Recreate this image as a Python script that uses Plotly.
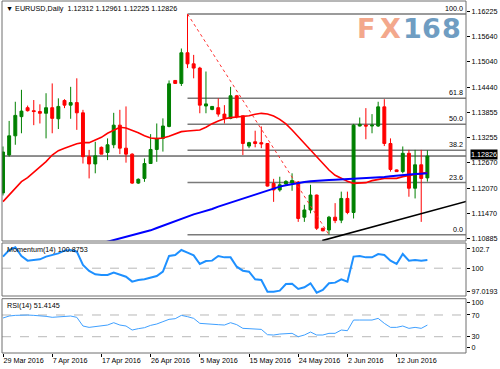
import plotly.graph_objects as go

# ---------------- data ----------------
symbol_title = "EURUSD,Daily"
last_ohlc = ["1.12312", "1.12961", "1.12225", "1.12826"]

bars = list(range(70))  # daily bars (broker with Sunday candles), 29 Mar 2016 .. 17 Jun 2016
tick_bars = [0, 8, 16, 24, 32, 40, 48, 56, 64]
tick_labels = ["29 Mar 2016", "7 Apr 2016", "17 Apr 2016", "26 Apr 2016", "5 May 2016",
               "15 May 2016", "24 May 2016", "2 Jun 2016", "12 Jun 2016"]

opens = [1.1196, 1.1285, 1.1330, 1.1375, 1.1396, 1.1389, 1.1387, 1.1383, 1.1396, 1.1370,
         1.1413, 1.1402, 1.1408, 1.1384, 1.1281, 1.1264, 1.1303, 1.1291, 1.1309, 1.1355,
         1.1301, 1.1287, 1.1219, 1.1230, 1.1265, 1.1298, 1.1324, 1.1352, 1.1460, 1.1453,
         1.1525, 1.1499, 1.1489, 1.1400, 1.1392, 1.1396, 1.1381, 1.1371, 1.1424, 1.1377,
         1.1306, 1.1316, 1.1314, 1.1312, 1.1218, 1.1203, 1.1217, 1.1219, 1.1221, 1.1139,
         1.1156, 1.1191, 1.1113, 1.1109, 1.1139, 1.1132, 1.1183, 1.1150, 1.1353, 1.1355,
         1.1353, 1.1353, 1.1398, 1.1312, 1.1250, 1.1246, 1.1289, 1.1207, 1.1262, 1.12312]
highs = [1.1305, 1.1365, 1.1410, 1.1438, 1.1401, 1.1414, 1.1404, 1.1430, 1.1453, 1.1418,
         1.1416, 1.1445, 1.1465, 1.1391, 1.1297, 1.1316, 1.1305, 1.1324, 1.1384, 1.1391,
         1.1399, 1.1289, 1.1230, 1.1277, 1.1334, 1.1359, 1.1371, 1.1460, 1.1461, 1.1535,
         1.1616, 1.1520, 1.1492, 1.1481, 1.1400, 1.1418, 1.1402, 1.1445, 1.1426, 1.1377,
         1.1316, 1.1342, 1.1352, 1.1313, 1.1229, 1.1234, 1.1226, 1.1242, 1.1224, 1.1168,
         1.1215, 1.1192, 1.1114, 1.1142, 1.1172, 1.1199, 1.1199, 1.1358, 1.1373, 1.1395,
         1.1381, 1.1410, 1.1416, 1.1324, 1.1251, 1.1305, 1.1297, 1.1297, 1.1297, 1.12961]
lows = [1.1190, 1.1281, 1.1309, 1.1336, 1.1387, 1.1355, 1.1359, 1.1324, 1.1336, 1.1346,
        1.1395, 1.1370, 1.1344, 1.1265, 1.1230, 1.1242, 1.1287, 1.1273, 1.1301, 1.1287,
        1.1267, 1.1217, 1.1217, 1.1222, 1.1264, 1.1269, 1.1293, 1.1350, 1.1452, 1.1447,
        1.1489, 1.1465, 1.1383, 1.1383, 1.1390, 1.1375, 1.1359, 1.1369, 1.1371, 1.1285,
        1.1301, 1.1303, 1.1301, 1.1211, 1.1175, 1.1199, 1.1214, 1.1201, 1.1128, 1.1128,
        1.1148, 1.1109, 1.1106, 1.1098, 1.1125, 1.1125, 1.1146, 1.1136, 1.1352, 1.1322,
        1.1336, 1.1351, 1.1306, 1.1246, 1.1246, 1.1242, 1.1187, 1.1183, 1.1128, 1.12225]
closes = [1.1292, 1.1330, 1.1378, 1.1388, 1.1389, 1.1387, 1.1383, 1.1396, 1.1371, 1.1399,
          1.1402, 1.1408, 1.1384, 1.1281, 1.1264, 1.1283, 1.1287, 1.1309, 1.1355, 1.1301,
          1.1287, 1.1219, 1.1228, 1.1265, 1.1298, 1.1324, 1.1353, 1.1452, 1.1453, 1.1525,
          1.1499, 1.1489, 1.1402, 1.1405, 1.1399, 1.1381, 1.1371, 1.1424, 1.1375, 1.1312,
          1.1314, 1.1312, 1.1311, 1.1212, 1.1203, 1.1215, 1.1223, 1.1225, 1.1136, 1.1156,
          1.1191, 1.1113, 1.1107, 1.1139, 1.1131, 1.1183, 1.1150, 1.1355, 1.1357, 1.1353,
          1.1355, 1.1398, 1.1312, 1.1251, 1.1246, 1.1289, 1.1207, 1.1262, 1.1230, 1.12826]

ma_red = [1.11755, 1.11911, 1.12068, 1.12224, 1.12318, 1.12443, 1.12553, 1.12694, 1.12850, 1.12952,
          1.13007, 1.13061, 1.13116, 1.13140, 1.13140, 1.13202, 1.13265, 1.13359, 1.13437, 1.13500,
          1.13484, 1.13437, 1.13374, 1.13304, 1.13249, 1.13234, 1.13249, 1.13288, 1.13343, 1.13398,
          1.13414, 1.13429, 1.13437, 1.13500, 1.13586, 1.13648, 1.13703, 1.13727, 1.13742, 1.13758,
          1.13773, 1.13805, 1.13828, 1.13813, 1.13766, 1.13687, 1.13578, 1.13437, 1.13281, 1.13124,
          1.12952, 1.12795, 1.12639, 1.12498, 1.12373, 1.12295, 1.12232, 1.12185, 1.12193, 1.12201,
          1.12248, 1.12279, 1.12302, 1.12302, 1.12302, 1.12342, 1.12373, 1.12404, 1.12420, 1.12435]
ma_blue = [None] * 16 + [
    1.10777, 1.10816, 1.10855, 1.10886, 1.10917, 1.10956, 1.10996, 1.11035, 1.11082, 1.11137,
    1.11191, 1.11246, 1.11301, 1.11356, 1.11403, 1.11457, 1.11497, 1.11536, 1.11583, 1.11637,
    1.11684, 1.11731, 1.11778, 1.11825, 1.11872, 1.11927, 1.11966, 1.12005, 1.12060, 1.12107,
    1.12138, 1.12169, 1.12201, 1.12216, 1.12232, 1.12248, 1.12256, 1.12263, 1.12271, 1.12279,
    1.12279, 1.12279, 1.12287, 1.12295, 1.12302, 1.12318, 1.12334, 1.12349, 1.12365, 1.12381,
    1.12396, 1.12404, 1.12412, 1.12420]

momentum = [101.24, 101.95, 102.24, 101.31, 100.81, 100.88, 100.95, 101.24, 101.38, 101.59,
            101.88, 101.95, 101.77, 100.34, 99.70, 99.34, 99.27, 99.27, 99.52, 99.27,
            99.09, 98.56, 98.73, 98.81, 98.98, 99.16, 99.63, 101.31, 101.41, 101.95,
            101.66, 101.38, 100.45, 100.77, 100.81, 101.31, 101.16, 101.16, 100.16, 99.73,
            99.63, 98.81, 98.73, 97.48, 97.48, 97.59, 98.31, 98.34, 97.77, 97.95,
            98.38, 97.38, 97.66, 98.38, 98.45, 98.81, 98.56, 101.24, 101.31, 101.16,
            101.16, 101.52, 101.41, 100.81, 100.45, 101.52, 100.81, 100.88, 100.81, 100.8753]
rsi = [64.4, 68.1, 69.3, 69.9, 69.9, 69.3, 68.7, 67.5, 65.7, 66.9,
       67.5, 68.1, 65.7, 49.7, 47.2, 48.5, 49.7, 51.5, 55.8, 51.5,
       49.7, 42.3, 44.8, 46.6, 50.9, 53.4, 57.7, 62.0, 63.2, 69.3,
       66.9, 63.8, 54.6, 53.4, 53.4, 52.2, 51.5, 55.8, 52.2, 45.4,
       44.8, 44.8, 43.5, 33.7, 33.1, 34.9, 35.6, 36.2, 30.0, 33.1,
       38.6, 33.1, 33.1, 36.2, 36.2, 42.3, 41.1, 60.7, 60.7, 60.7,
       60.7, 63.8, 54.6, 47.2, 47.2, 49.7, 45.4, 47.2, 45.4, 51.4145]

price_ticks = [1.16225, 1.15640, 1.15040, 1.14440, 1.13855, 1.13255, 1.12670, 1.12070, 1.11470, 1.10885]
price_tick_text = ["1.16225", "1.15640", "1.15040", "1.14440", "1.13855", "1.13255", "1.12670",
                   "1.12070", "1.11470", "1.10885"]
mom_ticks = [102.06, 100.0, 97.55]
mom_tick_text = ["102.7", "100", "97.0193"]
mom_range = [97.0193, 102.7]
rsi_ticks = [92.5, 70, 30, 10.5]
rsi_tick_text = ["100", "70", "30", "0"]

current_price = 1.12826
fib_high, fib_low = 1.1616, 1.1098
fib_high_bar, fib_low_bar = 30, 53
fib_levels = [100.0, 61.8, 50.0, 38.2, 23.6, 0.0]
trend_x = [51.9, 75.3]
trend_y = [1.1084, 1.1176]

# ---------------- geometry ----------------
W, H = 500, 369
L, R, T, B = 2, 34, 1, 16
ph = H - T - B


def py(y):  # pixel y -> paper y
    return (H - B - y) / ph


def px(x):  # pixel x -> paper x
    return (x - L) / (W - L - R)


x_range = [-0.163, 75.28]
main_dom = [py(241), 1.0]
mom_dom = [py(296), py(243)]
rsi_dom = [0.0, py(298.7)]
main_range = [1.10831, 1.16465]

FONT = "Liberation Sans, Arial, sans-serif"
FS = 7.2

fig = go.Figure()

fig.add_trace(go.Candlestick(
    x=bars, open=opens, high=highs, low=lows, close=closes,
    increasing=dict(line=dict(color="#008000", width=1), fillcolor="#008000"),
    decreasing=dict(line=dict(color="#FF0000", width=1), fillcolor="#FF0000"),
    whiskerwidth=0, hoverinfo="skip", showlegend=False, xaxis="x", yaxis="y"))

fig.add_trace(go.Scatter(x=bars, y=ma_red, mode="lines", line=dict(color="#FF0000", width=1.6),
                         hoverinfo="skip", showlegend=False, yaxis="y"))
fig.add_trace(go.Scatter(x=bars, y=ma_blue, mode="lines", line=dict(color="#0000FF", width=2),
                         hoverinfo="skip", showlegend=False, yaxis="y"))
# Fibonacci trend (dotted red)
fig.add_trace(go.Scatter(x=[fib_high_bar, fib_low_bar], y=[fib_high, fib_low], mode="lines",
                         line=dict(color="#FF3030", width=1, dash="dot"),
                         hoverinfo="skip", showlegend=False, yaxis="y"))
# trend line
fig.add_trace(go.Scatter(x=trend_x, y=trend_y, mode="lines", line=dict(color="#000000", width=1.6),
                         hoverinfo="skip", showlegend=False, yaxis="y"))

fig.add_trace(go.Scatter(x=bars, y=momentum, mode="lines", line=dict(color="#1E90FF", width=2),
                         hoverinfo="skip", showlegend=False, yaxis="y2"))
fig.add_trace(go.Scatter(x=bars, y=rsi, mode="lines", line=dict(color="#3FA0FF", width=1),
                         hoverinfo="skip", showlegend=False, yaxis="y3"))

shapes = []
annotations = []

# Fibonacci levels
for lv in fib_levels:
    val = fib_low + (fib_high - fib_low) * lv / 100.0
    shapes.append(dict(type="line", xref="x", yref="y", x0=fib_high_bar, x1=x_range[1], y0=val, y1=val,
                       line=dict(color="#7A7A7A", width=1.5), layer="below"))
    annotations.append(dict(xref="x", yref="y", x=x_range[1] - 0.15, y=val, text=f"{lv:.1f}",
                            xanchor="right", yanchor="bottom", showarrow=False, yshift=-1,
                            font=dict(family=FONT, size=FS, color="#000000")))

# current price line
shapes.append(dict(type="line", xref="paper", yref="y", x0=0, x1=1, y0=current_price, y1=current_price,
                   line=dict(color="#202020", width=1), layer="below"))
annotations.append(dict(xref="paper", yref="y", x=1, y=current_price, text=last_ohlc[3],
                        xanchor="left", yanchor="middle", xshift=4, yshift=1.5, showarrow=False,
                        bgcolor="#000000", borderpad=0,
                        font=dict(family=FONT, size=FS, color="#FFFFFF")))

# dashed levels in sub windows
shapes.append(dict(type="line", xref="paper", yref="y2", x0=0, x1=1, y0=100, y1=100,
                   line=dict(color="#B8B8B8", width=1, dash="dash"), layer="below"))
for lv in (70, 30):
    shapes.append(dict(type="line", xref="paper", yref="y3", x0=0, x1=1, y0=lv, y1=lv,
                       line=dict(color="#B8B8B8", width=1, dash="dash"), layer="below"))

# frames
for d in (main_dom, mom_dom, rsi_dom):
    shapes.append(dict(type="rect", xref="paper", yref="paper", x0=0, x1=1, y0=d[0], y1=d[1],
                       line=dict(color="#6E6E6E", width=1)))

# texts
annotations.append(dict(xref="paper", yref="paper", x=px(4), y=py(8), xanchor="left", yanchor="middle",
                        showarrow=False,
                        text="\u25BC " + symbol_title + "\u00a0\u00a0" + " ".join(last_ohlc),
                        font=dict(family=FONT, size=FS, color="#000000")))
annotations.append(dict(xref="paper", yref="paper", x=px(5), y=py(249), xanchor="left", yanchor="middle",
                        showarrow=False, text="Momentum(14) 100.8753",
                        font=dict(family=FONT, size=FS, color="#000000")))
annotations.append(dict(xref="paper", yref="paper", x=px(5), y=py(305), xanchor="left", yanchor="middle",
                        showarrow=False, text="RSI(14) 51.4145",
                        font=dict(family=FONT, size=FS, color="#000000")))

# watermark
for ch, cx, col in [("F", 366, "#F3A88C"), ("X", 390, "#F3A88C"), ("1", 412, "#6F9DC2"),
                    ("6", 431, "#6F9DC2"), ("8", 451, "#6F9DC2")]:
    annotations.append(dict(xref="paper", yref="paper", x=px(cx), y=py(28.5), xanchor="center",
                            yanchor="middle", showarrow=False, text=ch,
                            font=dict(family="DejaVu Sans", size=27, color=col, weight="bold")))

axis_font = dict(family=FONT, size=FS, color="#000000")
fig.update_layout(
    width=W, height=H, margin=dict(l=L, r=R, t=T, b=B),
    paper_bgcolor="#FFFFFF", plot_bgcolor="#FFFFFF",
    showlegend=False, boxgap=0.32,
    shapes=shapes, annotations=annotations,
    xaxis=dict(range=x_range, anchor="y3", tickvals=tick_bars, ticktext=tick_labels, tickangle=0,
               ticks="outside", ticklen=3, tickcolor="#000000", ticklabelposition="outside right",
               showgrid=False, zeroline=False, showline=False, tickfont=axis_font,
               rangeslider=dict(visible=False), fixedrange=True),
    yaxis=dict(domain=main_dom, range=main_range, side="right", anchor="x",
               tickvals=price_ticks, ticktext=price_tick_text, ticks="outside", ticklen=3,
               tickcolor="#000000", showgrid=False, zeroline=False, showline=False, tickfont=axis_font),
    yaxis2=dict(domain=mom_dom, range=mom_range, side="right", anchor="x",
                tickvals=mom_ticks, ticktext=mom_tick_text, ticks="outside", ticklen=3,
                tickcolor="#000000", showgrid=False, zeroline=False, showline=False, tickfont=axis_font),
    yaxis3=dict(domain=rsi_dom, range=[0, 100], side="right", anchor="x",
                tickvals=rsi_ticks, ticktext=rsi_tick_text, ticks="outside", ticklen=3,
                tickcolor="#000000", showgrid=False, zeroline=False, showline=False, tickfont=axis_font),
)

fig.write_html("out.html")
